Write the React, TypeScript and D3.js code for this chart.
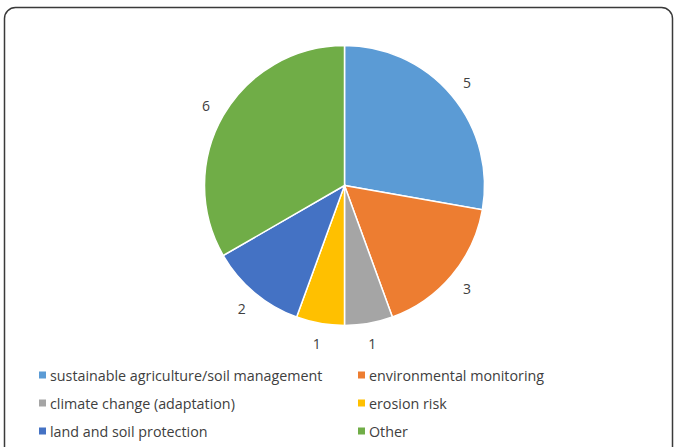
import React, { useEffect, useRef } from 'react';
import * as d3 from 'd3';

const categories = [
  'sustainable agriculture/soil management',
  'environmental monitoring',
  'climate change (adaptation)',
  'erosion risk',
  'land and soil protection',
  'Other',
];
const values = [5, 3, 1, 1, 2, 6];
const colors = ['#5B9BD5', '#ED7D31', '#A5A5A5', '#FFC000', '#4472C4', '#70AD47'];

function App() {
  const ref = useRef<SVGSVGElement>(null);

  useEffect(() => {
    if (!ref.current) return;
    const svg = d3.select(ref.current);
    svg.selectAll('*').remove();

    // outer frame
    svg.append('rect')
      .attr('x', 4.5).attr('y', 7.5)
      .attr('width', 668).attr('height', 460)
      .attr('rx', 11)
      .attr('fill', 'white')
      .attr('stroke', '#3a3a3a')
      .attr('stroke-width', 1.5);

    const cx = 344.5, cy = 185.5, r = 140;
    const data = values.map((v, i) => ({ name: categories[i], value: v, color: colors[i] }));
    const pie = d3.pie<any>().sort(null).value((d: any) => d.value);
    const arcs = pie(data);
    const arc = d3.arc<any>().innerRadius(0).outerRadius(r);
    const labelArc = d3.arc<any>().innerRadius(160).outerRadius(160);

    const g = svg.append('g').attr('transform', `translate(${cx},${cy})`);
    g.selectAll('path')
      .data(arcs)
      .join('path')
      .attr('d', arc)
      .attr('fill', (d: any) => d.data.color)
      .attr('stroke', 'white')
      .attr('stroke-width', 1.5);

    g.selectAll('text')
      .data(arcs)
      .join('text')
      .attr('transform', (d: any) => `translate(${labelArc.centroid(d)})`)
      .attr('text-anchor', 'middle')
      .attr('dominant-baseline', 'central')
      .attr('fill', '#404040')
      .style('font-family', '"Open Sans", sans-serif')
      .style('font-size', '14px')
      .text((d: any) => d.data.value);

    // legend, two columns
    const legend = svg.append('g');
    const colX = [39, 358];
    const rowY = [375, 403, 431];
    const items = legend.selectAll('g')
      .data(data)
      .join('g')
      .attr('transform', (_d: any, i: number) => `translate(${colX[i % 2]},${rowY[Math.floor(i / 2)]})`);
    items.append('rect')
      .attr('x', 0).attr('y', -3.5)
      .attr('width', 7).attr('height', 7)
      .attr('fill', (d: any) => d.color);
    items.append('text')
      .attr('x', 11)
      .attr('dominant-baseline', 'central')
      .attr('fill', '#404040')
      .style('font-family', '"Open Sans", sans-serif')
      .style('font-size', '14.3px')
      .text((d: any) => d.name);
  }, []);

  return (
    <svg
      ref={ref}
      width={675}
      height={447}
      style={{ position: 'absolute', left: 0, top: 0, display: 'block' }}
    />
  );
}

export default App;
